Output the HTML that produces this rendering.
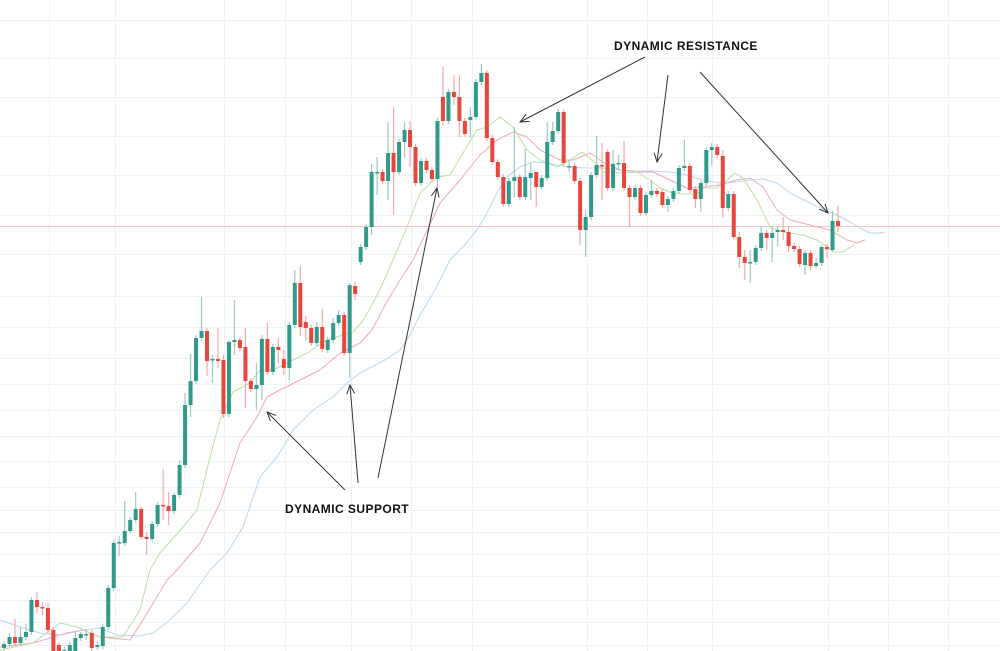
<!DOCTYPE html>
<html><head><meta charset="utf-8"><style>
html,body{margin:0;padding:0;background:#fff;}
svg{display:block;}
text{font-family:"Liberation Sans",sans-serif;font-weight:bold;font-size:12px;fill:#111;letter-spacing:0.45px;}
</style></head><body>
<svg id="c" width="1000" height="651" viewBox="0 0 1000 651" xmlns="http://www.w3.org/2000/svg">
<defs><marker id="ah" markerWidth="10" markerHeight="10" refX="9" refY="5" orient="auto" markerUnits="userSpaceOnUse"><path d="M0,1 L9,5 L0,9" fill="none" stroke="#333" stroke-width="1"/></marker></defs>
<g id="grid"></g>
<line x1="0" y1="226.5" x2="1000" y2="226.5" stroke="#f5c4c6" stroke-width="1"/>
<g id="ma"></g>
<g id="candles"></g>
<g stroke="#333" stroke-width="1" fill="none">
<line x1="645" y1="57" x2="520" y2="122" marker-end="url(#ah)"/>
<line x1="668" y1="75" x2="657" y2="162" marker-end="url(#ah)"/>
<line x1="700" y1="72" x2="828" y2="213" marker-end="url(#ah)"/>
<line x1="345" y1="490" x2="267" y2="412" marker-end="url(#ah)"/>
<line x1="358" y1="483" x2="350" y2="385" marker-end="url(#ah)"/>
<line x1="378" y1="478" x2="437" y2="188" marker-end="url(#ah)"/>
</g>
<text x="614" y="50">DYNAMIC RESISTANCE</text>
<text x="285" y="513">DYNAMIC SUPPORT</text>
</svg>
<script>
var NS="http://www.w3.org/2000/svg";
function el(p,n,a){var e=document.createElementNS(NS,n);for(var k in a)e.setAttribute(k,a[k]);p.appendChild(e);return e;}
var g=document.getElementById('grid');
[49,115,224,285,351,411,472,587,647,712,828,888,948].forEach(function(x){el(g,'line',{x1:x+.5,y1:0,x2:x+.5,y2:651,stroke:'#eef2f7','stroke-width':1});});
[20,58,97,136,175,215,254,296,327,358,384,410,436,461,487,510,532,554,576,600,622,645].forEach(function(y){el(g,'line',{x1:0,y1:y+.5,x2:1000,y2:y+.5,stroke:'#eef2f7','stroke-width':1});});
var D=[
['G',644,648],['G',637,644,633],['R',637,643,619],['G',637,643,627],['G',632,637,624],['G',600,632,597],['R',600,607,592,613],['R',607,608,602,615],['R',608,630,603,633],['R',630,655],
['R',645,660],['G',650,660],['G',645,655],['G',638,651,632],['G',634,638,632],['G',634,635,630,640],['R',633,648],['G',645,647],['G',627,646],['G',588,627,585],
['G',543,588],['G',542,543,536,556],['G',531,543,501],['G',520,531],['G',509,520,492],['R',509,537],['R',537,539,532,555],['G',524,539],['G',505,524],['R',505,506,469,520],
['R',506,511,492,525],['G',495,511],['G',465,495,460],['G',405,465,393],['G',381,405,354,417],['G',338,381],['G',331,338,297],['R',331,361,328,376],['G',359,360,355,383],['R',359,361,328,368],['R',360,414,355,418],
['G',342,414,340],['G',340,342,300,355],['R',340,348],['R',347,381,328,408],['R',381,389],['G',385,389,363,410],['G',339,385,335,400],['R',339,372,323],['G',347,372],['R',347,350,338,363],
['R',359,368,350,375],['G',325,368,322,380],['G',283,325,270],['R',283,327,266,336],['R',322,328,316,340],['R',328,343],['G',327,343,322],['R',327,349,309],['G',340,350],['G',323,340,318],
['G',315,323,310],['R',315,353],['G',285,353,283,378],['R',286,294,282,300],['G',247,262],['G',227,247],['G',172,227,164,235],['G',172,173,157,195],['R',172,181],['G',153,181,122,200],
['R',153,172,107,215],['G',142,172],['G',130,142,122,158],['R',130,147,121,167],['R',147,183],['G',161,183],['R',161,170],['R',170,179],['G',121,179,118,187],['R',97,121,67,125],
['G',92,121],['R',92,97,75,105],['R',97,121,75,137],['R',121,134],['G',117,120,107,138],['G',82,117],['G',73,82,64],['R',73,138],['R',138,162],['R',162,177],
['R',177,204],['G',181,204],['G',177,181,127,197],['R',177,197],['G',177,197,149],['G',173,178,163,200],['R',172,187,172,207],['G',178,187],['G',142,178,122],['G',131,142,122],
['G',112,131],['R',112,163],['G',166,167,160,172],['R',166,181],['R',181,230,178,245],['G',217,230,210,257],['G',175,217],['G',165,175,136],['R',165,166,143,200],['R',152,188],
['G',164,188,150],['G',163,164,155,170],['R',163,188,141],['R',188,197,185,227],['G',188,197],['R',188,213],['G',195,213],['G',191,195,180],['R',191,194],['R',192,205],
['G',199,205,196,212],['G',191,199],['G',168,191],['G',166,168,140],['R',166,190],['R',189,199,186,208],['G',183,199,180,212],['G',150,183],['G',147,150,143,165],['R',147,155],
['R',156,208,150,217],['G',194,208],['R',194,237],['R',237,257,232,268],['R',257,263,250,280],['G',262,263,250,283],['G',248,262],['G',233,248,226],['R',233,238,230,250],['G',233,238,226,262],
['G',230,232,226,246],['R',230,232,217,240],['R',232,246,226,252],['R',246,249],['R',249,264],['G',253,265,250,275],['R',253,266,250,270],['G',263,266,258,268],['G',247,263,245],['R',247,249,244,258],
['G',221,250,211,252],['R',221,226,206,232]
];
var cg=document.getElementById('candles');
var sp=(838-4)/(D.length-1);
D.forEach(function(d,i){
 var x=4+sp*i, G=d[0]=='G';
 var col=G?'#2f9a8a':'#e8453c', wc=G?'#9cc9c2':'#f2aaa6';
 var t=d[1],b=d[2],wt=d[3]!==undefined?d[3]:t-3,wb=d[4]!==undefined?d[4]:b+3;
 el(cg,'line',{x1:x,y1:wt,x2:x,y2:wb,stroke:wc,'stroke-width':1.2});
 el(cg,'rect',{x:x-2,y:t,width:4,height:Math.max(1.5,b-t),fill:col});
});
var mg=document.getElementById('ma');
function pl(pts,c){el(mg,'polyline',{points:pts.map(function(p){return p.join(',')}).join(' '),fill:'none',stroke:c,'stroke-width':1,'stroke-linejoin':'round'});}
pl([[0,620],[20,627],[40,633],[60,635],[83,630],[100,628],[117,635],[140,636],[153,633],[170,620],[187,603],[210,570],[227,553],[243,527],[260,477],[277,457],[293,430],[313,410],[333,397],[347,383],[360,373],[385,360],[400,350],[410,335],[420,315],[435,290],[450,260],[463,247],[477,230],[487,213],[497,193],[507,177],[520,167],[533,162],[547,163],[567,167],[587,168],[603,168],[620,170],[637,171],[653,171],[670,172],[687,175],[703,180],[720,183],[737,182],[750,180],[763,179],[777,183],[790,193],[810,203],[823,209],[837,215],[850,222],[860,228],[870,233],[880,233],[885,232]],'#b9d7ef');
pl([[0,647],[33,643],[67,633],[83,630],[100,637],[130,640],[143,620],[167,580],[177,570],[200,543],[220,503],[240,443],[257,417],[267,397],[280,390],[300,380],[320,370],[340,353],[360,343],[372,330],[385,305],[400,280],[413,260],[440,203],[460,180],[480,155],[497,140],[513,132],[527,137],[540,150],[560,160],[573,160],[590,153],[603,162],[620,170],[637,172],[653,172],[670,180],[687,188],[703,187],[720,185],[737,180],[750,178],[763,187],[777,210],[790,220],[810,225],[830,230],[847,240],[857,243],[865,240]],'#f2a7b6');
pl([[0,650],[33,643],[60,623],[77,627],[100,637],[123,637],[140,610],[150,570],[160,553],[183,527],[197,510],[210,457],[220,420],[233,392],[250,383],[260,370],[273,370],[287,363],[307,353],[327,340],[353,332],[362,322],[372,305],[382,285],[393,260],[407,227],[420,193],[437,177],[450,175],[463,153],[477,130],[487,127],[500,117],[513,127],[527,150],[540,160],[557,167],[570,160],[582,152],[600,167],[603,172],[613,172],[623,173],[637,172],[650,180],[660,188],[670,192],[683,194],[697,194],[703,188],[717,188],[727,180],[735,173],[743,178],[757,200],[770,227],[783,232],[803,235],[817,240],[827,247],[833,252],[843,252],[855,244]],'#b8e0a6');
</script>
</body></html>
